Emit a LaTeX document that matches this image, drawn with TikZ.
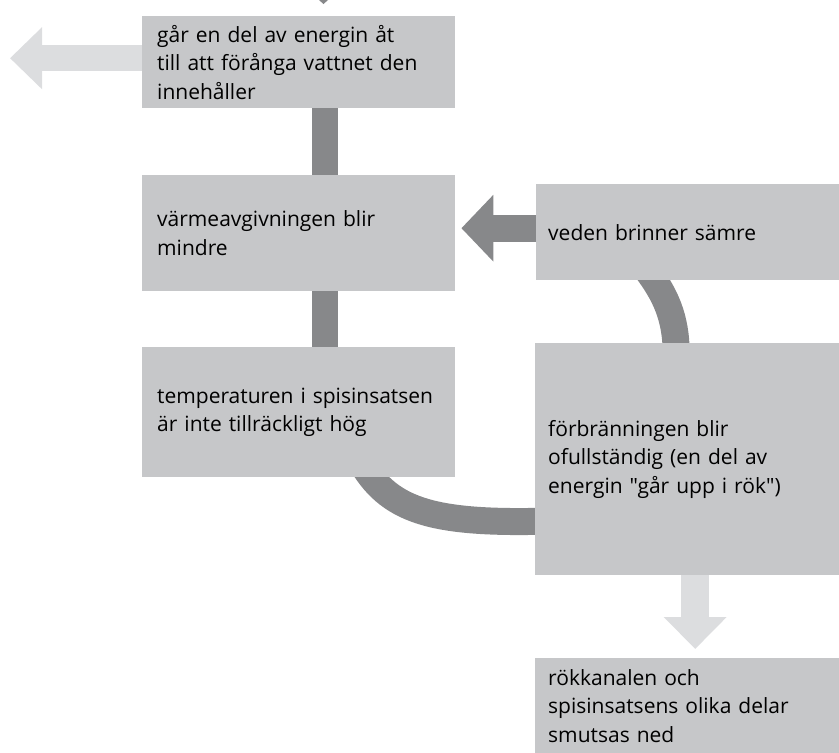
\documentclass[tikz,border=0pt]{standalone}
\usepackage{fontspec}
\setmainfont{Open Sans}[Ligatures=TeXOff]
\usetikzlibrary{arrows.meta,backgrounds}

\definecolor{boxgray}{RGB}{198,199,201}
\definecolor{darkgray}{RGB}{135,136,138}
\definecolor{lightgray}{RGB}{220,221,223}

\begin{document}
\begin{tikzpicture}
[x=1pt,y=-1pt,
 box/.style={rectangle,fill=boxgray,inner xsep=15pt,inner ysep=0pt,align=left,
   font=\fontsize{21}{28.5}\selectfont,anchor=north west},
 darkbar/.style={draw=darkgray,line width=26pt},
 darkarrow/.style={draw=darkgray,line width=27pt,-{Triangle[length=32pt,width=65pt]}},
 lightarrow/.style={draw=lightgray,line width=27pt,-{Triangle[length=32pt,width=61pt]}}]

\useasboundingbox (0,0) rectangle (839,753);

% the boxes
\node (vatten) at (142,16)[box,minimum width=313pt,minimum height=92pt,text width=283pt]
  {går en del av energin åt\\till att förånga vattnet den\\innehåller};
\node (varme) at (142,175)[box,minimum width=313pt,minimum height=116pt,text width=283pt]
  {värmeavgivningen blir\\mindre};
\node (veden) at (536,184)[box,inner xsep=12pt,minimum width=303pt,minimum height=96pt,text width=279pt]
  {veden brinner sämre};
\node (temp) at (142,347)[box,minimum width=313pt,minimum height=130pt,text width=283pt]
  {temperaturen i spisinsatsen\\är inte tillräckligt hög};
\node (forbr) at (535,343)[box,inner xsep=13pt,minimum width=304pt,minimum height=232pt,text width=278pt]
  {förbränningen blir\\ofullständig (en del av\\energin "går upp i rök")};
\node (rok) at (535,658)[box,inner xsep=13pt,minimum width=304pt,minimum height=95pt,text width=278pt]
  {rökkanalen och\\spisinsatsens olika delar\\smutsas ned};

% the tip coming from above
\fill[darkgray] (319,0) -- (328,0) -- (323.5,4) -- cycle;

\begin{scope}[on background layer]
% the straight bars
\draw[darkbar] ([xshift=26.5pt]vatten.south) -- ([xshift=26.5pt]varme.north);
\draw[darkbar] ([xshift=26.5pt]varme.south) -- ([xshift=26.5pt]temp.north);

% the curved bars
\draw[darkbar,line width=27pt] ([xshift=-42pt,yshift=12pt]veden.south) .. controls (666,295) and (676,318) .. ([xshift=-11pt,yshift=-10pt]forbr.north);
\draw[darkbar,line width=27pt] (360,460) .. controls (388,510) and (430,524) .. ([xshift=10pt,yshift=-62pt]forbr.west);
\end{scope}

% the arrows
\draw[darkarrow] ([yshift=4pt]veden.west) -- ([xshift=6pt,yshift=4pt]varme.east |- veden.west);
\draw[lightarrow,line width=26pt,-{Triangle[length=32pt,width=60pt]}] ([yshift=4pt]vatten.west) -- ++(-132,0);
\draw[lightarrow,line width=28pt] ([xshift=8pt]forbr.south) -- ([xshift=8pt,yshift=9pt]rok.north);

\end{tikzpicture}
\end{document}
